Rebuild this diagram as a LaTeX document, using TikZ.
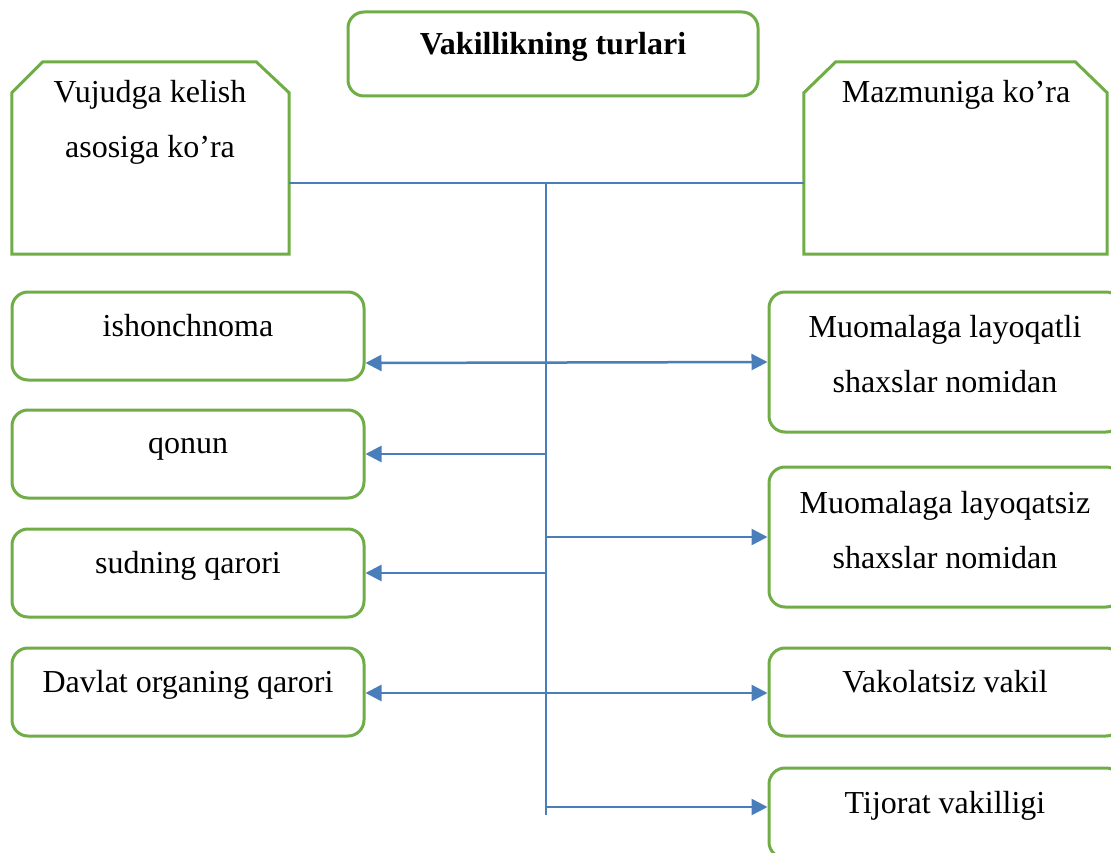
\documentclass[tikz,border=0pt]{standalone}
\usepackage{fontspec}
\setmainfont{Liberation Serif}
\usetikzlibrary{arrows.meta}
\definecolor{boxgreen}{HTML}{70AD47}
\definecolor{linkblue}{HTML}{4A7EBB}
\begin{document}
\begin{tikzpicture}[x=1pt,y=-1pt,
  frame/.style={draw=none,rectangle,inner sep=0pt},
  roundbox/.style={draw=boxgreen,line width=3pt,rounded corners=16pt,rectangle,inner sep=0pt},
  snipedge/.style={draw=boxgreen,line width=3pt,line join=miter},
  label/.style={anchor=base,inner sep=0pt,font=\fontsize{32}{55}\selectfont,align=center},
  link/.style={draw=linkblue,line width=2.5pt},
  tip/.style={-{Triangle[length=16pt,width=16pt]}},
  tips/.style={{Triangle[length=16pt,width=16pt]}-{Triangle[length=16pt,width=16pt]}}]
\useasboundingbox (0,0) rectangle (1111,853);
\fill[white] (0,0) rectangle (1111,853);
\clip (0,0) rectangle (1111,853);

% title
\node[roundbox,minimum width=410pt,minimum height=84pt] (title) at (553,54) {};
\node[label,font=\bfseries\fontsize{32}{55}\selectfont] (titletxt) at (553,55) {Vakillikning turlari};

% the two heading boxes with cut upper corners
\node[frame,minimum width=277pt,minimum height=192pt] (vuj) at (150.5,158) {};
\draw[snipedge] ([yshift=-31pt]vuj.north west) -- ([xshift=31pt]vuj.north west)
  -- ([xshift=-33pt]vuj.north east) -- ([yshift=-31pt]vuj.north east)
  -- (vuj.south east) -- (vuj.south west) -- cycle;
\node[label] (vujtxt) at (150,158) {Vujudga kelish\\asosiga ko’ra};

\node[frame,minimum width=303pt,minimum height=192pt] (maz) at (955.5,158) {};
\draw[snipedge] ([yshift=-31pt]maz.north west) -- ([xshift=32pt]maz.north west)
  -- ([xshift=-32pt]maz.north east) -- ([yshift=-31pt]maz.north east)
  -- (maz.south east) -- (maz.south west) -- cycle;
\node[label] (maztxt) at (956,103) {Mazmuniga ko’ra};

% left column
\node[roundbox,minimum width=352pt,minimum height=88pt] (ish) at (188,336) {};
\node[label] at (188,336) {ishonchnoma};
\node[roundbox,minimum width=352pt,minimum height=88pt] (qon) at (188,454) {};
\node[label] at (188,453) {qonun};
\node[roundbox,minimum width=352pt,minimum height=88pt] (sud) at (188,573) {};
\node[label] at (188,573) {sudning qarori};
\node[roundbox,minimum width=352pt,minimum height=88pt] (dav) at (188,692) {};
\node[label] at (188,692) {Davlat organing qarori};

% right column
\node[roundbox,minimum width=353pt,minimum height=140pt] (mla) at (945.5,362) {};
\node[label] at (945,392) {Muomalaga layoqatli\\shaxslar nomidan};
\node[roundbox,minimum width=353pt,minimum height=140pt] (mls) at (945.5,537) {};
\node[label] at (945,568) {Muomalaga layoqatsiz\\shaxslar nomidan};
\node[roundbox,minimum width=353pt,minimum height=88pt] (vak) at (945.5,692) {};
\node[label] at (945,692) {Vakolatsiz vakil};
\node[roundbox,minimum width=353pt,minimum height=90pt] (tij) at (945.5,813) {};
\node[label] at (945,813) {Tijorat vakilligi};

% trunk and branches
\coordinate (tt) at (546,183);
\coordinate (tb) at (546,815);
\draw[link] (vuj.east |- tt) -- (maz.west |- tt);
\draw[link] (tt) -- (tb);
\draw[link,tips] ([yshift=-27pt]ish.east) -- (mla.west);
\draw[link,tip] (tt |- qon.east) -- (qon.east);
\draw[link,tip] (tt |- mls.west) -- (mls.west);
\draw[link,tip] (tt |- sud.east) -- (sud.east);
\draw[link,tips] ([yshift=-1pt]dav.east) -- ([yshift=-1pt]vak.west);
\draw[link,tip] ([yshift=6pt]tt |- tij.west) -- ([yshift=6pt]tij.west);
\end{tikzpicture}
\end{document}
